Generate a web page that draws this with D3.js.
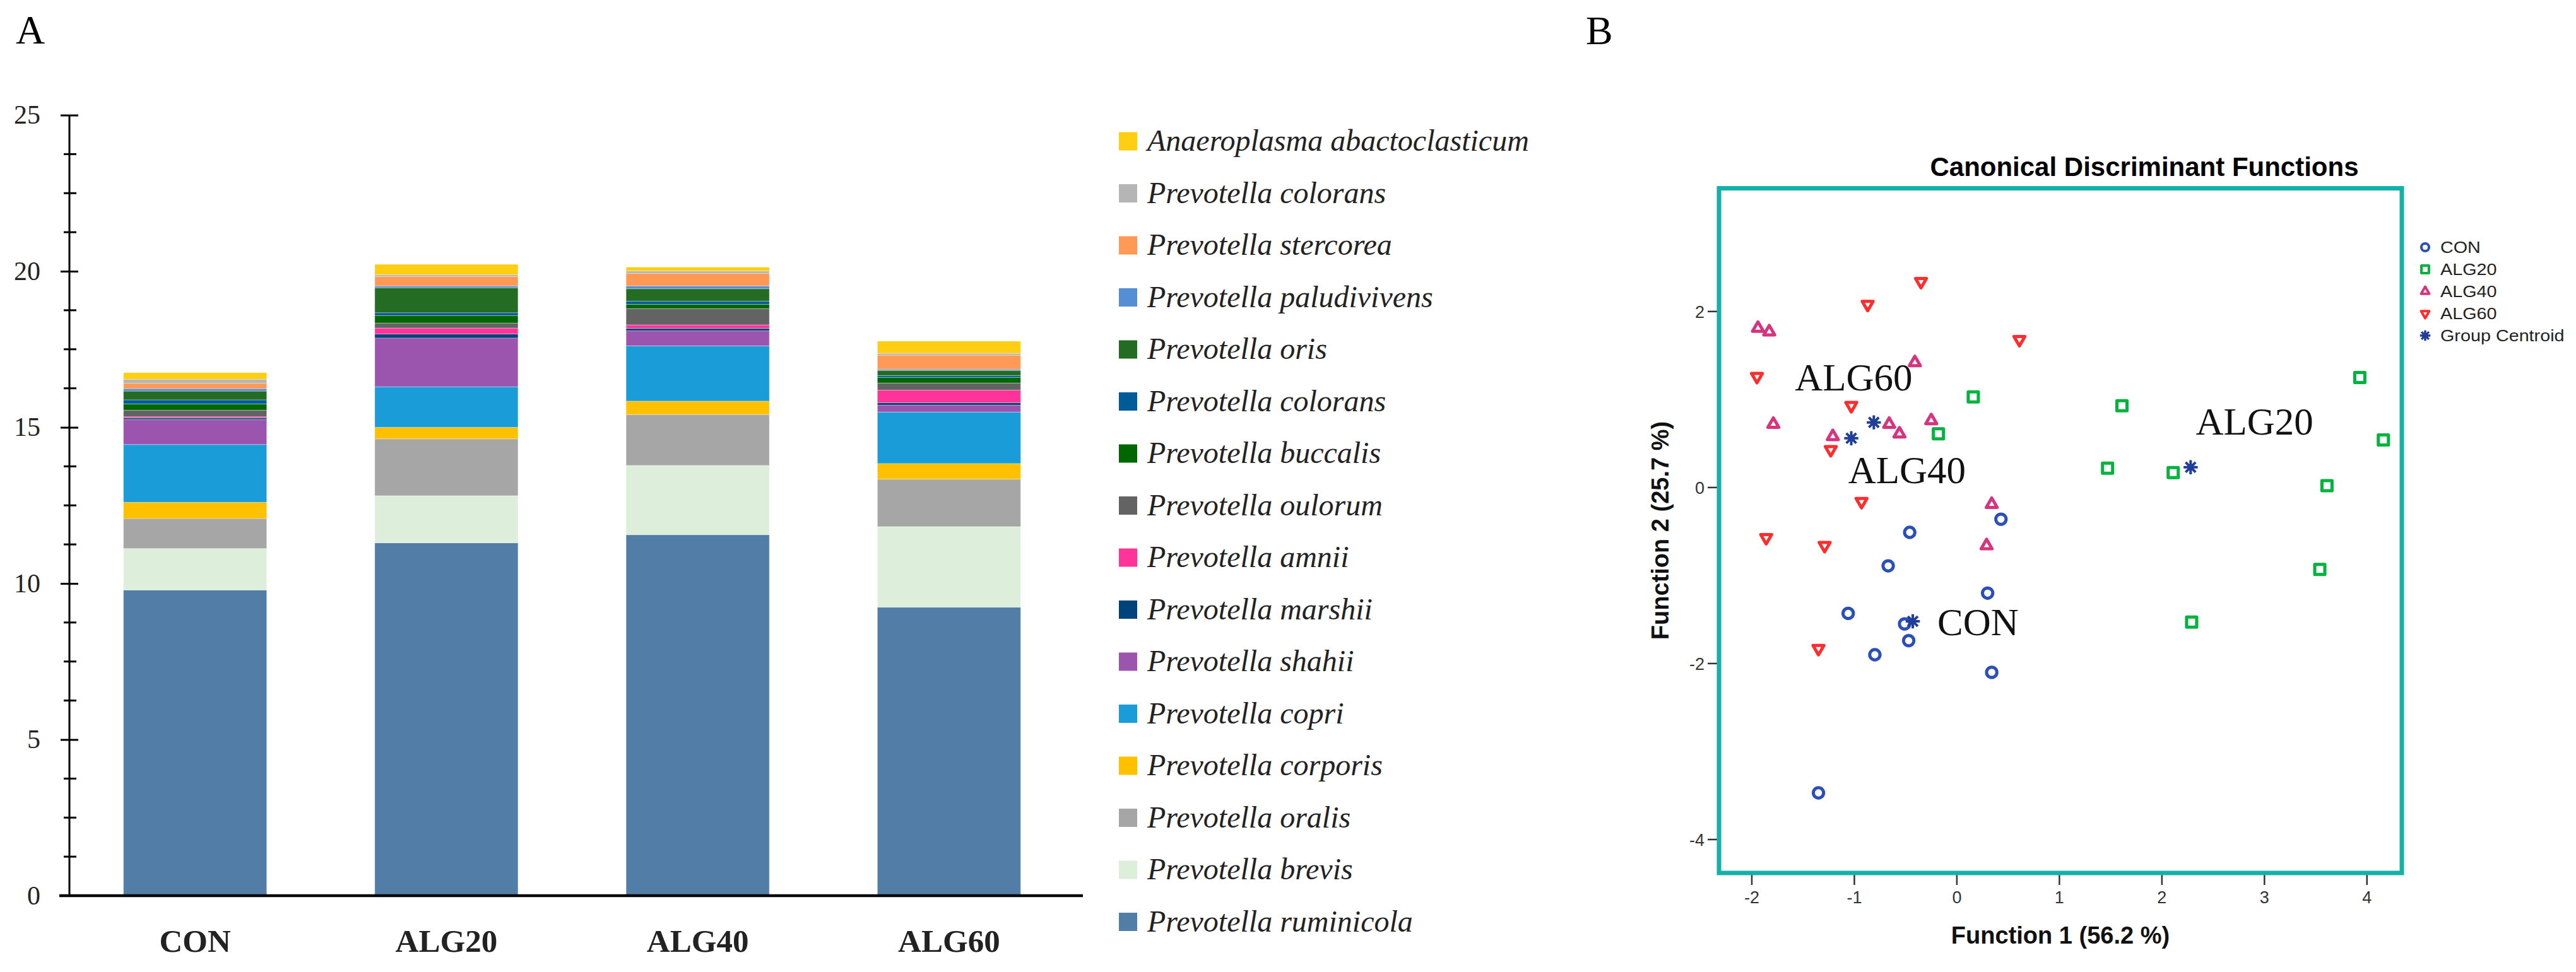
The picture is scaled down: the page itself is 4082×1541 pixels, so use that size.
<!DOCTYPE html>
<html>
<head>
<meta charset="utf-8">
<script src="https://cdn.jsdelivr.net/npm/d3@7"></script>
<style>
  body { margin: 0; background: #fff; }
</style>
</head>
<body>
<svg id="fig"></svg>
<script>
const W = 4082, H = 1541;

// Panel A: stacked abundance, listed bottom -> top of each bar
const groups = ["CON", "ALG20", "ALG40", "ALG60"];
const species = [
  "Prevotella ruminicola", "Prevotella brevis", "Prevotella oralis", "Prevotella corporis",
  "Prevotella copri", "Prevotella shahii", "Prevotella marshii", "Prevotella amnii",
  "Prevotella oulorum", "Prevotella buccalis", "Prevotella colorans", "Prevotella oris",
  "Prevotella paludivivens", "Prevotella stercorea", "Prevotella colorans", "Anaeroplasma abactoclasticum"
];
const speciesColors = [
  "#517da6", "#ddefda", "#a6a6a6", "#ffc000", "#199cd8", "#9b55ae", "#00427a", "#ff3399",
  "#636363", "#006600", "#005c99", "#246b24", "#558ed5", "#ff9955", "#b5b5b5", "#ffcd11"
];
const conValues   = [9.79, 1.33, 0.96, 0.52, 1.85, 0.80, 0.05, 0.04, 0.21, 0.20, 0.13, 0.28, 0.08, 0.17, 0.13, 0.21];
const alg20Values = [11.30, 1.51, 1.82, 0.37, 1.30, 1.56, 0.13, 0.19, 0.16, 0.24, 0.09, 0.80, 0.06, 0.30, 0.06, 0.33];
const alg40Values = [11.56, 2.22, 1.63, 0.43, 1.77, 0.48, 0.08, 0.11, 0.52, 0.14, 0.10, 0.40, 0.09, 0.40, 0.08, 0.12];
const alg60Values = [9.24, 2.58, 1.52, 0.50, 1.65, 0.22, 0.08, 0.40, 0.23, 0.18, 0.06, 0.16, 0.04, 0.45, 0.06, 0.39];
const yTicksA = [0, 5, 10, 15, 20, 25];

// Panel B: canonical discriminant scores [function 1, function 2]
const conPoints = [[-0.67, -0.89], [-1.06, -1.43], [-0.80, -1.90], [-1.35, -3.47], [0.43, -0.36],
  [-0.46, -0.51], [0.30, -1.20], [-0.51, -1.55], [-0.47, -1.74], [0.34, -2.10]];
const alg20Points = [[0.16, 1.03], [1.61, 0.93], [3.93, 1.25], [-0.18, 0.61], [4.16, 0.54],
  [1.47, 0.22], [2.11, 0.17], [3.61, 0.02], [3.54, -0.93], [2.29, -1.53]];
const alg40Points = [[-1.94, 1.81], [-1.83, 1.77], [-1.79, 0.72], [-1.21, 0.58], [-0.41, 1.42],
  [-0.66, 0.72], [-0.25, 0.76], [-0.56, 0.61], [0.34, -0.19], [0.29, -0.66]];
const alg60Points = [[-1.95, 1.26], [-1.03, 0.93], [-1.23, 0.43], [-0.93, -0.16], [-1.86, -0.57],
  [-1.29, -0.66], [-1.35, -1.83], [-0.87, 2.08], [-0.35, 2.34], [0.61, 1.68]];
const centroids = [[-0.43, -1.52], [2.28, 0.23], [-0.81, 0.74], [-1.03, 0.56]];
const groupLabels = ["ALG60", "ALG40", "ALG20", "CON"];
const groupLabelPos = [[-1.58, 1.10], [-1.06, 0.05], [2.33, 0.60], [-0.19, -1.68]];
const xTicksB = [-2, -1, 0, 1, 2, 3, 4];
const yTicksB = [-4, -2, 0, 2];

const svg = d3.select("#fig").attr("width", W).attr("height", H)
  .attr("viewBox", `0 0 ${W} ${H}`).style("background", "#fff");

const serif = "'Liberation Serif', 'Times New Roman', serif";
const sans = "'Liberation Sans', Arial, sans-serif";

// ---------- Panel A ----------
const gA = svg.append("g");

gA.append("text").attr("x", 25).attr("y", 69)
  .style("font-family", serif).style("font-size", "64px").text("A");

const x = d3.scaleBand().domain(groups).range([110, 1703])
  .paddingInner(0.43).paddingOuter(0.215);
const y = d3.scaleLinear().domain([0, 25]).range([1420, 182.5]);

const valuesByGroup = [conValues, alg20Values, alg40Values, alg60Values];
const rows = groups.map((g, gi) => {
  const row = { group: g };
  species.forEach((s, i) => { row[i] = valuesByGroup[gi][i]; });
  return row;
});
const stacked = d3.stack().keys(d3.range(species.length))(rows);

gA.append("g").selectAll("g")
  .data(stacked)
  .join("g")
  .attr("fill", d => speciesColors[d.key])
  .selectAll("rect")
  .data(d => d)
  .join("rect")
  .attr("x", d => x(d.data.group))
  .attr("width", x.bandwidth())
  .attr("y", d => y(d[1]))
  .attr("height", d => y(d[0]) - y(d[1]))
  .attr("stroke", "#ffffff")
  .attr("stroke-opacity", 0.35)
  .attr("stroke-width", 1);

// y axis: ticks cross the line
const yAxisA = gA.append("g").attr("transform", "translate(110,0)")
  .call(d3.axisLeft(y).tickValues(yTicksA).tickSize(14).tickPadding(32).tickFormat(d3.format("d")));
yAxisA.select(".domain").remove();
yAxisA.selectAll(".tick line").attr("x1", 14).attr("stroke", "#000").attr("stroke-width", 3);
yAxisA.selectAll(".tick text")
  .style("font-family", serif).style("font-size", "42px").attr("fill", "#222");

const minorTicks = d3.range(0, 25.001, 1.25).filter(v => v % 5 !== 0);
yAxisA.selectAll(".minor").data(minorTicks).join("line")
  .attr("class", "minor")
  .attr("x1", -9).attr("x2", 11)
  .attr("y1", d => y(d)).attr("y2", d => y(d))
  .attr("stroke", "#000").attr("stroke-width", 3);

yAxisA.append("line").attr("x1", 0).attr("x2", 0)
  .attr("y1", y(25)).attr("y2", y(0))
  .attr("stroke", "#000").attr("stroke-width", 3);

// x axis
gA.append("line").attr("x1", 94).attr("x2", 1716)
  .attr("y1", y(0)).attr("y2", y(0))
  .attr("stroke", "#000").attr("stroke-width", 4.5);

gA.append("g").selectAll("text").data(groups).join("text")
  .attr("x", d => x(d) + x.bandwidth() / 2)
  .attr("y", 1509)
  .attr("text-anchor", "middle")
  .style("font-family", serif).style("font-size", "51px").style("font-weight", "bold")
  .attr("fill", "#222")
  .text(d => d);

// legend, top entry is the top of the stack
const legendOrder = d3.range(species.length).reverse();
const legA = gA.append("g").selectAll("g").data(legendOrder).join("g")
  .attr("transform", (d, i) => `translate(1773,${224 + i * 82.5})`);
legA.append("rect").attr("x", 0).attr("y", -14.5).attr("width", 29).attr("height", 29)
  .attr("fill", d => speciesColors[d]);
legA.append("text").attr("x", 45).attr("y", 15)
  .style("font-family", serif).style("font-size", "48px").style("font-style", "italic")
  .attr("fill", "#222")
  .text(d => species[d]);

// ---------- Panel B ----------
const gB = svg.append("g");

gB.append("text").attr("x", 2513).attr("y", 70)
  .style("font-family", serif).style("font-size", "64px").text("B");

const xs = d3.scaleLinear().domain([-2.32, 4.34]).range([2724, 3806]);
const ys = d3.scaleLinear().domain([-4.38, 3.40]).range([1384, 298.5]);

gB.append("text").attr("x", 3398).attr("y", 279).attr("text-anchor", "middle")
  .style("font-family", sans).style("font-size", "42px").style("font-weight", "bold")
  .text("Canonical Discriminant Functions");

// ticks
gB.append("g").selectAll("line").data(yTicksB).join("line")
  .attr("x1", 2706).attr("x2", 2721)
  .attr("y1", d => ys(d)).attr("y2", d => ys(d))
  .attr("stroke", "#333").attr("stroke-width", 2.5);
gB.append("g").selectAll("text").data(yTicksB).join("text")
  .attr("x", 2701).attr("y", d => ys(d)).attr("dy", "0.36em")
  .attr("text-anchor", "end")
  .style("font-family", sans).style("font-size", "27px").attr("fill", "#333")
  .text(d => d);

gB.append("g").selectAll("line").data(xTicksB).join("line")
  .attr("x1", d => xs(d)).attr("x2", d => xs(d))
  .attr("y1", 1387).attr("y2", 1403)
  .attr("stroke", "#333").attr("stroke-width", 2.5);
gB.append("g").selectAll("text").data(xTicksB).join("text")
  .attr("x", d => xs(d)).attr("y", 1432)
  .attr("text-anchor", "middle")
  .style("font-family", sans).style("font-size", "27px").attr("fill", "#333")
  .text(d => d);

// axis titles
gB.append("text").attr("x", 3265).attr("y", 1496).attr("text-anchor", "middle")
  .style("font-family", sans).style("font-size", "38px").style("font-weight", "bold")
  .attr("fill", "#111")
  .text("Function 1 (56.2 %)");
gB.append("text").attr("transform", "translate(2644,841) rotate(-90)")
  .attr("text-anchor", "middle")
  .style("font-family", sans).style("font-size", "38px").style("font-weight", "bold")
  .attr("fill", "#111")
  .text("Function 2 (25.7 %)");

// marker shapes
const starSymbol = {
  draw(ctx, size) {
    const r = Math.sqrt(size) / 2;
    for (let k = 0; k < 4; k++) {
      const a = k * Math.PI / 4;
      ctx.moveTo(-r * Math.cos(a), -r * Math.sin(a));
      ctx.lineTo(r * Math.cos(a), r * Math.sin(a));
    }
  }
};
const series = [
  { name: "CON", pts: conPoints, type: d3.symbolCircle, size: 210, rot: 0, color: "#2b4fb8" },
  { name: "ALG20", pts: alg20Points, type: d3.symbolSquare, size: 256, rot: 0, color: "#00b33c" },
  { name: "ALG40", pts: alg40Points, type: d3.symbolTriangle, size: 130, rot: 0, color: "#d6347f" },
  { name: "ALG60", pts: alg60Points, type: d3.symbolTriangle, size: 130, rot: 180, color: "#ff2d2d" },
  { name: "Group Centroid", pts: centroids, type: starSymbol, size: 500, rot: 0, color: "#1f3d9a" }
];

const plot = gB.append("g");
series.forEach(s => {
  plot.append("g").selectAll("path").data(s.pts).join("path")
    .attr("d", d3.symbol().type(s.type).size(s.size))
    .attr("transform", d => `translate(${xs(d[0])},${ys(d[1])}) rotate(${s.rot})`)
    .attr("fill", "none")
    .attr("stroke", s.color)
    .attr("stroke-width", s.type === starSymbol ? 4 : 5)
    .attr("stroke-linejoin", "round");
});

// group annotations
gB.append("g").selectAll("text").data(groupLabels).join("text")
  .attr("x", (d, i) => xs(groupLabelPos[i][0]))
  .attr("y", (d, i) => ys(groupLabelPos[i][1]))
  .style("font-family", serif).style("font-size", "61px").attr("fill", "#111")
  .text(d => d);

// frame
gB.append("rect").attr("x", xs(-2.32)).attr("y", ys(3.40))
  .attr("width", xs(4.34) - xs(-2.32)).attr("height", ys(-4.38) - ys(3.40))
  .attr("fill", "none").attr("stroke", "#14b0aa").attr("stroke-width", 7);

// legend
const legB = gB.append("g").selectAll("g").data(series).join("g")
  .attr("transform", (d, i) => `translate(3843,${392 + i * 35})`);
legB.append("path")
  .attr("d", d => d3.symbol().type(d.type).size(d.size * 0.55)())
  .attr("transform", d => `rotate(${d.rot})`)
  .attr("fill", "none")
  .attr("stroke", d => d.color)
  .attr("stroke-width", d => d.type === starSymbol ? 3.5 : 4)
  .attr("stroke-linejoin", "round");
legB.append("text")
  .attr("transform", "translate(24,9) scale(1.15,1)")
  .style("font-family", sans).style("font-size", "25px").attr("fill", "#222")
  .text(d => d.name);
</script>
</body>
</html>
